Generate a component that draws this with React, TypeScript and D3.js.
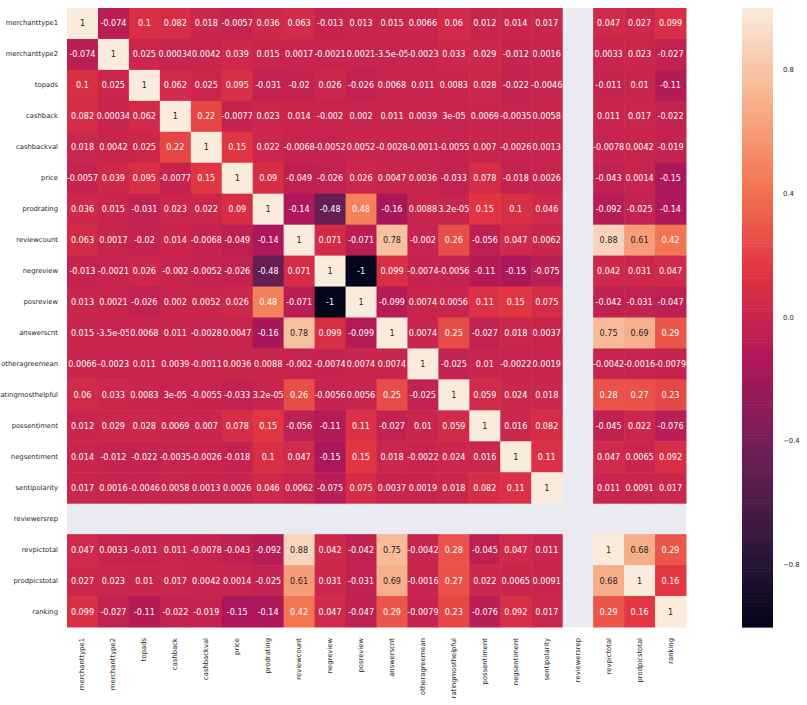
import * as d3 from "d3";
import React from "react";

const labels = [
  "merchanttype1", "merchanttype2", "topads", "cashback", "cashbackval", "price",
  "prodrating", "reviewcount", "negreview", "posreview", "answerscnt", "otheragreemean",
  "ratingmosthelpful", "possentiment", "negsentiment", "sentipolarity", "reviewersrep",
  "revpictotal", "prodpicstotal", "ranking",
];

const N = null;
const corr: (number | null)[][] = [
  [1, -0.074, 0.1, 0.082, 0.018, -0.0057, 0.036, 0.063, -0.013, 0.013, 0.015, 0.0066, 0.06, 0.012, 0.014, 0.017, N, 0.047, 0.027, 0.099],
  [-0.074, 1, 0.025, 0.00034, 0.0042, 0.039, 0.015, 0.0017, -0.0021, 0.0021, -3.5e-05, -0.0023, 0.033, 0.029, -0.012, 0.0016, N, 0.0033, 0.023, -0.027],
  [0.1, 0.025, 1, 0.062, 0.025, 0.095, -0.031, -0.02, 0.026, -0.026, 0.0068, 0.011, 0.0083, 0.028, -0.022, -0.0046, N, -0.011, 0.01, -0.11],
  [0.082, 0.00034, 0.062, 1, 0.22, -0.0077, 0.023, 0.014, -0.002, 0.002, 0.011, 0.0039, 3e-05, 0.0069, -0.0035, 0.0058, N, 0.011, 0.017, -0.022],
  [0.018, 0.0042, 0.025, 0.22, 1, 0.15, 0.022, -0.0068, -0.0052, 0.0052, -0.0028, -0.0011, -0.0055, 0.007, -0.0026, 0.0013, N, -0.0078, 0.0042, -0.019],
  [-0.0057, 0.039, 0.095, -0.0077, 0.15, 1, 0.09, -0.049, -0.026, 0.026, 0.0047, 0.0036, -0.033, 0.078, -0.018, 0.0026, N, -0.043, 0.0014, -0.15],
  [0.036, 0.015, -0.031, 0.023, 0.022, 0.09, 1, -0.14, -0.48, 0.48, -0.16, 0.0088, 3.2e-05, 0.15, 0.1, 0.046, N, -0.092, -0.025, -0.14],
  [0.063, 0.0017, -0.02, 0.014, -0.0068, -0.049, -0.14, 1, 0.071, -0.071, 0.78, -0.002, 0.26, -0.056, 0.047, 0.0062, N, 0.88, 0.61, 0.42],
  [-0.013, -0.0021, 0.026, -0.002, -0.0052, -0.026, -0.48, 0.071, 1, -1, 0.099, -0.0074, -0.0056, -0.11, -0.15, -0.075, N, 0.042, 0.031, 0.047],
  [0.013, 0.0021, -0.026, 0.002, 0.0052, 0.026, 0.48, -0.071, -1, 1, -0.099, 0.0074, 0.0056, 0.11, 0.15, 0.075, N, -0.042, -0.031, -0.047],
  [0.015, -3.5e-05, 0.0068, 0.011, -0.0028, 0.0047, -0.16, 0.78, 0.099, -0.099, 1, 0.0074, 0.25, -0.027, 0.018, 0.0037, N, 0.75, 0.69, 0.29],
  [0.0066, -0.0023, 0.011, 0.0039, -0.0011, 0.0036, 0.0088, -0.002, -0.0074, 0.0074, 0.0074, 1, -0.025, 0.01, -0.0022, 0.0019, N, -0.0042, -0.0016, -0.0079],
  [0.06, 0.033, 0.0083, 3e-05, -0.0055, -0.033, 3.2e-05, 0.26, -0.0056, 0.0056, 0.25, -0.025, 1, 0.059, 0.024, 0.018, N, 0.28, 0.27, 0.23],
  [0.012, 0.029, 0.028, 0.0069, 0.007, 0.078, 0.15, -0.056, -0.11, 0.11, -0.027, 0.01, 0.059, 1, 0.016, 0.082, N, -0.045, 0.022, -0.076],
  [0.014, -0.012, -0.022, -0.0035, -0.0026, -0.018, 0.1, 0.047, -0.15, 0.15, 0.018, -0.0022, 0.024, 0.016, 1, 0.11, N, 0.047, 0.0065, 0.092],
  [0.017, 0.0016, -0.0046, 0.0058, 0.0013, 0.0026, 0.046, 0.0062, -0.075, 0.075, 0.0037, 0.0019, 0.018, 0.082, 0.11, 1, N, 0.011, 0.0091, 0.017],
  [N, N, N, N, N, N, N, N, N, N, N, N, N, N, N, N, N, N, N, N],
  [0.047, 0.0033, -0.011, 0.011, -0.0078, -0.043, -0.092, 0.88, 0.042, -0.042, 0.75, -0.0042, 0.28, -0.045, 0.047, 0.011, N, 1, 0.68, 0.29],
  [0.027, 0.023, 0.01, 0.017, 0.0042, 0.0014, -0.025, 0.61, 0.031, -0.031, 0.69, -0.0016, 0.27, 0.022, 0.0065, 0.0091, N, 0.68, 1, 0.16],
  [0.099, -0.027, -0.11, -0.022, -0.019, -0.15, -0.14, 0.42, 0.047, -0.047, 0.29, -0.0079, 0.23, -0.076, 0.092, 0.017, N, 0.29, 0.16, 1],
];

const cbarTicks = [0.8, 0.4, 0.0, -0.4, -0.8];

// seaborn "rocket" approximated by a few stops
const rocketStops = ["#03051a", "#35193e", "#701f57", "#ad1759", "#e13342", "#f37651", "#f6b48f", "#faebdd"];
const rocketPos = [0, 1 / 7, 2 / 7, 3 / 7, 4 / 7, 5 / 7, 6 / 7, 1];

// python-ish ".2g"
const fmt = (v: number) => {
  if (v === 0) return "0";
  const e = Math.floor(Math.log10(Math.abs(v)));
  if (e < -4 || e >= 2) {
    const [m, ex] = v.toExponential(1).split("e");
    const n = parseInt(ex);
    return m.replace(/\.0$/, "") + "e" + (n < 0 ? "-" : "+") + String(Math.abs(n)).padStart(2, "0");
  }
  return String(parseFloat(v.toPrecision(2)));
};

const textColor = (c: string) => {
  const rgb = d3.rgb(c);
  const lin = (x: number) => {
    const s = x / 255;
    return s <= 0.03928 ? s / 12.92 : Math.pow((s + 0.055) / 1.055, 2.4);
  };
  const lum = 0.2126 * lin(rgb.r) + 0.7152 * lin(rgb.g) + 0.0722 * lin(rgb.b);
  return lum > 0.408 ? "#262626" : "#ffffff";
};

export default function App() {
  const left = 67, top = 8, size = 619;
  const x = d3.scaleBand<string>().domain(labels).range([left, left + size]);
  const y = d3.scaleBand<string>().domain(labels).range([top, top + size]);

  const toT = d3.scaleLinear().domain([-1, 1]).range([0, 1]).clamp(true);
  const rocket = d3.scaleLinear<string>().domain(rocketPos).range(rocketStops).interpolate(d3.interpolateRgb);
  const color = (v: number) => rocket(toT(v));

  const cbX = 742, cbW = 31;
  const cbY = d3.scaleLinear().domain([-1, 1]).range([top + size, top]);
  const steps = d3.range(200).map(i => -1 + (i * 2) / 200);

  const font = "'DejaVu Sans', sans-serif";

  return (
    <svg width={807} height={705} style={{ position: "absolute", left: 0, top: 0, background: "#fff" }} fontFamily={font}>
      <rect x={left} y={top} width={size} height={size} fill="#eaeaf2" />
      {corr.map((row, i) =>
        row.map((v, j) => {
          if (v === null) return null;
          const c = color(v);
          return (
            <g key={`${i}-${j}`}>
              <rect x={x(labels[j])!} y={y(labels[i])!} width={x.bandwidth() + 0.5} height={y.bandwidth() + 0.5} fill={c} />
              <text
                x={x(labels[j])! + x.bandwidth() / 2}
                y={y(labels[i])! + y.bandwidth() / 2}
                textAnchor="middle"
                dominantBaseline="central"
                fontSize={8.1}
                fill={textColor(c)}
              >
                {fmt(v)}
              </text>
            </g>
          );
        })
      )}
      {labels.map(l => (
        <text key={"y" + l} x={58} y={y(l)! + y.bandwidth() / 2} textAnchor="end" dominantBaseline="central" fontSize={6.8} fill="#262626">
          {l}
        </text>
      ))}
      {labels.map(l => {
        const cx = x(l)! + x.bandwidth() / 2;
        const cy = 638;
        return (
          <text key={"x" + l} x={cx} y={cy} transform={`rotate(-90 ${cx} ${cy})`} textAnchor="end" dominantBaseline="central" fontSize={6.8} fill="#262626">
            {l}
          </text>
        );
      })}
      {steps.map(s => (
        <rect key={"cb" + s} x={cbX} y={cbY(s + 0.01)} width={cbW} height={Math.abs(cbY(0) - cbY(0.01)) + 0.6} fill={color(s + 0.005)} />
      ))}
      {cbarTicks.map(t => (
        <text key={"t" + t} x={783} y={cbY(t)} dominantBaseline="central" fontSize={6.8} fill="#262626">
          {t < 0 ? "\u2212" + Math.abs(t).toFixed(1) : t.toFixed(1)}
        </text>
      ))}
    </svg>
  );
}
